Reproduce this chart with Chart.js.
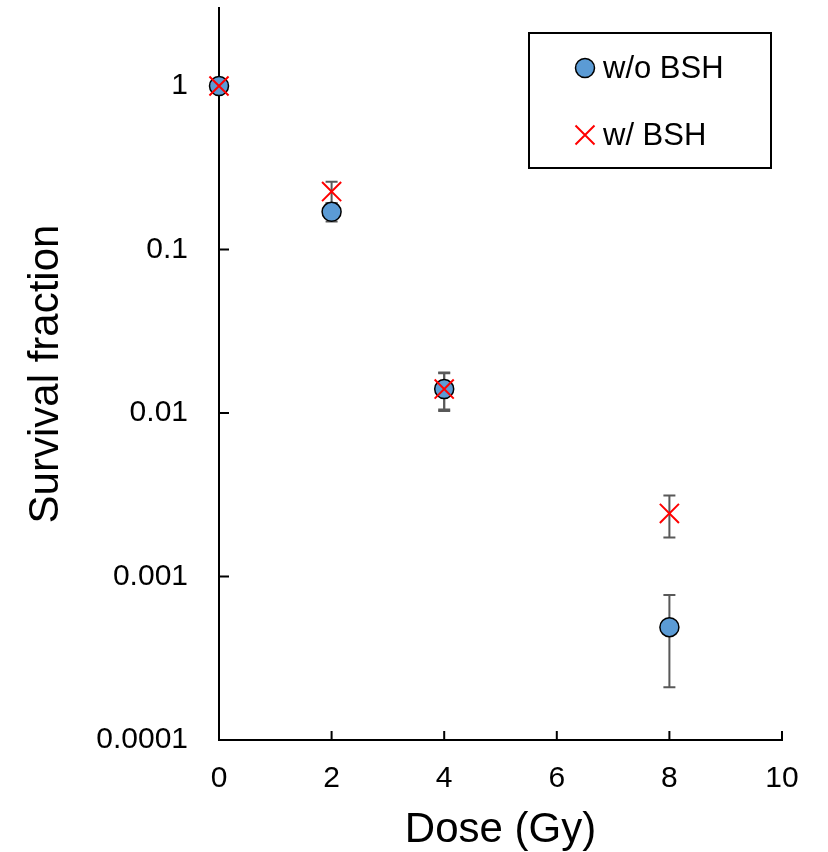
<!DOCTYPE html>
<html>
<head>
<meta charset="utf-8">
<script src="https://cdn.jsdelivr.net/npm/chart.js@4.4.1/dist/chart.umd.min.js"></script>
<style>
  body { margin: 0; background: #fff; }
  #wrap { width: 828px; height: 852px; }
</style>
</head>
<body>
<div id="wrap"><canvas id="survivalChart" width="828" height="852"></canvas></div>
<script>
const doses = [0, 2, 4, 8];
const woBshValues = [1, 0.17, 0.014, 0.00049];
const woBshErrors = [0, 0.0215, 0.0037, 0.00028];
const wBshValues = [1, 0.226, 0.014, 0.00243];
const wBshErrors = [0, 0.034, 0.0035, 0.0007];
const yTickValues = [0.0001, 0.001, 0.01, 0.1, 1];
const yTickLabels = ["0.0001", "0.001", "0.01", "0.1", "1"];
const seriesNames = ["w/o BSH", "w/ BSH"];

const FONT = "'Liberation Sans', Arial, sans-serif";

function toPoints(values) {
  return doses.map((d, i) => ({ x: d, y: values[i] }));
}

// error bars under the markers
const errorBars = {
  id: "errorBars",
  beforeDatasetsDraw(chart) {
    const ctx = chart.ctx;
    const xs = chart.scales.x;
    const ys = chart.scales.y;
    ctx.save();
    ctx.strokeStyle = "#595959";
    ctx.lineWidth = 2;
    chart.data.datasets.forEach((ds) => {
      ds.data.forEach((p, i) => {
        const e = ds.errors[i];
        if (!e) return;
        const x = xs.getPixelForValue(p.x);
        const yTop = ys.getPixelForValue(p.y + e);
        const yBot = ys.getPixelForValue(p.y - e);
        ctx.beginPath();
        ctx.moveTo(x, yTop);
        ctx.lineTo(x, yBot);
        ctx.moveTo(x - 6, yTop);
        ctx.lineTo(x + 6, yTop);
        ctx.moveTo(x - 6, yBot);
        ctx.lineTo(x + 6, yBot);
        ctx.stroke();
      });
    });
    ctx.restore();
  },
};

// tick marks pointing into the plot
const innerTicks = {
  id: "innerTicks",
  beforeDatasetsDraw(chart) {
    const ctx = chart.ctx;
    const xs = chart.scales.x;
    const ys = chart.scales.y;
    const area = chart.chartArea;
    ctx.save();
    ctx.strokeStyle = "#000";
    ctx.lineWidth = 2;
    ctx.beginPath();
    xs.ticks.forEach((t) => {
      const x = xs.getPixelForValue(t.value);
      ctx.moveTo(x, area.bottom);
      ctx.lineTo(x, area.bottom - 9);
    });
    ys.ticks.forEach((t) => {
      const y = ys.getPixelForValue(t.value);
      ctx.moveTo(area.left, y);
      ctx.lineTo(area.left + 10, y);
    });
    ctx.stroke();
    ctx.restore();
  },
};

// boxed legend in the upper right
const boxLegend = {
  id: "boxLegend",
  afterDraw(chart) {
    const ctx = chart.ctx;
    ctx.save();
    ctx.strokeStyle = "#000";
    ctx.lineWidth = 2;
    ctx.strokeRect(529, 33, 242, 135);
    ctx.font = "31px " + FONT;
    ctx.textAlign = "left";
    ctx.textBaseline = "middle";
    const rows = [68, 135];
    chart.data.datasets.forEach((ds, i) => {
      const cx = 585;
      const cy = rows[i];
      if (ds.pointStyle === "circle") {
        ctx.beginPath();
        ctx.arc(cx, cy, 9.5, 0, Math.PI * 2);
        ctx.fillStyle = ds.backgroundColor;
        ctx.fill();
        ctx.lineWidth = ds.borderWidth;
        ctx.strokeStyle = ds.borderColor;
        ctx.stroke();
      } else {
        const r = 9.5;
        ctx.beginPath();
        ctx.moveTo(cx - r, cy - r);
        ctx.lineTo(cx + r, cy + r);
        ctx.moveTo(cx - r, cy + r);
        ctx.lineTo(cx + r, cy - r);
        ctx.lineWidth = ds.borderWidth;
        ctx.strokeStyle = ds.borderColor;
        ctx.stroke();
      }
      ctx.fillStyle = "#000";
      ctx.fillText(ds.label, 603, cy + 1);
    });
    ctx.restore();
  },
};

const ctx = document.getElementById("survivalChart").getContext("2d");
new Chart(ctx, {
  type: "scatter",
  data: {
    datasets: [
      {
        label: seriesNames[0],
        data: toPoints(woBshValues),
        errors: woBshErrors,
        order: 1,
        pointStyle: "circle",
        pointRadius: 9.5,
        pointHoverRadius: 9.5,
        backgroundColor: "#5B9BD5",
        borderColor: "#000",
        borderWidth: 1.5,
        showLine: false,
        clip: false,
      },
      {
        label: seriesNames[1],
        data: toPoints(wBshValues),
        errors: wBshErrors,
        order: 0,
        pointStyle: "crossRot",
        pointRadius: 13.5,
        pointHoverRadius: 13.5,
        backgroundColor: "#FF0000",
        borderColor: "#FF0000",
        borderWidth: 2,
        showLine: false,
        clip: false,
      },
    ],
  },
  options: {
    responsive: false,
    animation: false,
    layout: { autoPadding: false, padding: { top: 8, right: 46, left: 0, bottom: 0 } },
    plugins: {
      legend: { display: false },
      tooltip: { enabled: false },
    },
    scales: {
      x: {
        type: "linear",
        min: 0,
        max: 10,
        grid: { display: true, drawOnChartArea: false, drawTicks: false },
        border: { color: "#000", width: 2 },
        ticks: {
          stepSize: 2,
          padding: 21,
          color: "#000",
          font: { family: FONT, size: 30 },
        },
        title: {
          display: true,
          text: "Dose (Gy)",
          color: "#000",
          font: { family: FONT, size: 42, lineHeight: 1 },
          padding: { top: 0, bottom: 1 },
        },
        afterFit(scale) {
          scale.height = 112;
          scale.paddingLeft = 0;
          scale.paddingRight = 0;
        },
      },
      y: {
        type: "logarithmic",
        min: 0.0001,
        max: 3,
        grid: { display: true, drawOnChartArea: false, drawTicks: false },
        border: { color: "#000", width: 2 },
        afterBuildTicks(scale) {
          scale.ticks = yTickValues.map((v) => ({ value: v }));
        },
        ticks: {
          padding: 31,
          color: "#000",
          font: { family: FONT, size: 30 },
          callback: function (value) {
            const i = yTickValues.indexOf(value);
            return i >= 0 ? yTickLabels[i] : "";
          },
        },
        title: {
          display: true,
          text: "Survival fraction",
          color: "#000",
          font: { family: FONT, size: 42, lineHeight: 1 },
          padding: { top: 25, bottom: 0 },
        },
        afterFit(scale) {
          scale.width = 219;
          scale.paddingTop = 0;
          scale.paddingBottom = 0;
        },
      },
    },
  },
  plugins: [errorBars, innerTicks, boxLegend],
});
</script>
</body>
</html>
